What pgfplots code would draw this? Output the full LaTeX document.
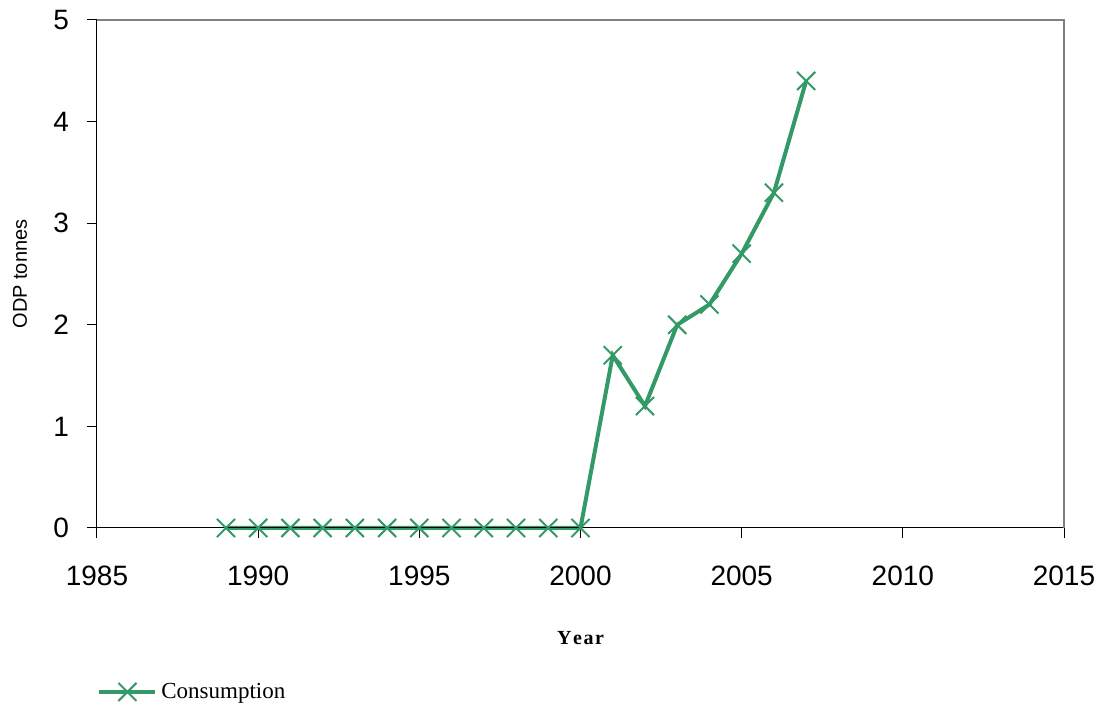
\documentclass[border=0pt]{standalone}
\usepackage{fontspec}
\setmainfont{Liberation Sans}
\newfontfamily\seriffont{Liberation Serif}
\usepackage{pgfplots}
\pgfplotsset{compat=1.18}
\definecolor{seagreen}{RGB}{51,153,102}
\begin{document}
\begin{tikzpicture}
\path[use as bounding box] (-48.5pt,-88pt) rectangle (502.5pt,264pt);
\begin{axis}[
  at={(0,0)}, anchor=south west,
  scale only axis, width=483.5pt, height=254pt,
  xmin=1985, xmax=2015, ymin=0, ymax=5,
  xtick={1985,1990,...,2015}, ytick={0,1,...,5},
  /pgf/number format/assume math mode=true,
  /pgf/number format/1000 sep={},
  tick align=outside, major tick length=5pt,
  tick style={black, line width=0.5pt},
  xtick pos=bottom, ytick pos=left,
  axis line style={draw=none},
  ticklabel style={font=\fontsize{14}{16}\selectfont},
  x tick label style={yshift=-10.5pt},
  y tick label style={xshift=-5.5pt},
  xlabel={\seriffont\bfseries Y\kern0.8pt e\kern0.8pt a\kern0.8pt r},
  xlabel style={at={(axis description cs:0.5,-0.2165)}, anchor=center, font=\fontsize{10}{12}\selectfont},
  ylabel={ODP tonnes},
  ylabel style={at={(axis description cs:-0.0796,0.5)}, anchor=center, rotate=0, font=\fontsize{10}{12}\selectfont},
  legend style={at={(axis description cs:0,-0.3228)}, anchor=west, draw=none, inner sep=0pt, font=\seriffont\fontsize{11.5}{13}\selectfont},
  legend cell align=left,
  legend image code/.code={\draw[mark repeat=2,mark phase=2,#1] plot coordinates {(0pt,0pt) (14pt,0pt) (28pt,0pt)};},
  clip=false,
]
\addplot[seagreen, line width=2pt, mark=x, mark size=6.4pt, mark options={line width=1pt, solid}] coordinates {
  (1989,0) (1990,0) (1991,0) (1992,0) (1993,0) (1994,0) (1995,0) (1996,0) (1997,0) (1998,0) (1999,0) (2000,0)
  (2001,1.7) (2002,1.2) (2003,2.0) (2004,2.2) (2005,2.7) (2006,3.3) (2007,4.4)
};
\addlegendentry{Consumption}
\draw[black, line width=0.5pt] (rel axis cs:0,1) -- (rel axis cs:0,0) -- (rel axis cs:1,0);
\draw[gray, line width=1pt] (rel axis cs:0,1) -- (rel axis cs:1,1) -- (rel axis cs:1,0);
\end{axis}
\end{tikzpicture}
\end{document}
